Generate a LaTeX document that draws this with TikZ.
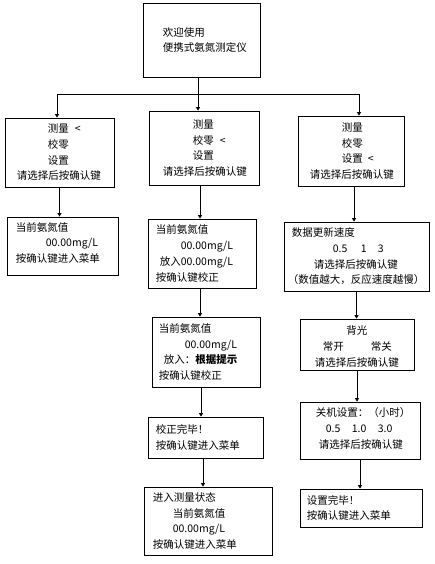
\documentclass[tikz,border=0pt]{standalone}
\usepackage{fontspec}
\newfontfamily\cjk{Noto Sans CJK SC}
\usetikzlibrary{arrows.meta,positioning}

\tikzset{
  box/.style={draw, line width=0.8pt, inner sep=0pt},
  txt/.style={align=left, inner sep=0pt, font=\cjk\fontsize{10.5}{15.7}\selectfont},
  line/.style={line width=0.8pt},
  arrow/.style={line, -{Triangle[length=3.5pt,width=4pt]}},
}

\begin{document}
\begin{tikzpicture}[x=1pt,y=-1pt]
	\useasboundingbox (0,0) rectangle (434,564);

	% title
	\node[box, minimum width=117pt, minimum height=74pt] (welcome) at (201.5,40) {};
	\node[txt, right=20pt of welcome.west] (welcome_t) {欢迎使用\\便携式氨氮测定仪};

	% left column: measure
	\node[box, minimum width=109pt, minimum height=69pt] (meas_1) at (59.5,152.5) {};
	\node[txt, right=12pt of meas_1.west] (meas_1t) {\hspace*{31pt}\makebox[27pt][l]{测量}<\\\hspace*{31pt}校零\\\hspace*{31pt}设置\\请选择后按确认键};
	\node[box, minimum width=111pt, minimum height=58pt] (meas_2) at (62.5,246) {};
	\node[txt, right=9pt of meas_2.west, yshift=3pt] (meas_2t) {当前氨氮值\\\hspace*{30pt}00.00mg/L\\按确认键进入菜单};

	% middle column: zero
	\node[box, minimum width=110pt, minimum height=74pt] (zero_1) at (204,148) {};
	\node[txt, right=14pt of zero_1.west] (zero_1t) {\hspace*{30pt}测量\\\hspace*{30pt}\makebox[27pt][l]{校零}<\\\hspace*{30pt}设置\\请选择后按确认键};
	\node[box, minimum width=108pt, minimum height=69pt] (zero_2) at (202,253.5) {};
	\node[txt, right=8pt of zero_2.west] (zero_2t) {当前氨氮值\\\hspace*{25pt}00.00mg/L\\\hspace*{4pt}放入00.00mg/L\\按确认键校正};
	\node[box, minimum width=108pt, minimum height=70pt] (zero_3) at (206,352) {};
	\node[txt, right=7pt of zero_3.west] (zero_3t) {当前氨氮值\\\hspace*{26pt}00.00mg/L\\\hspace*{5pt}放入：{\bfseries 根据提示}\\按确认键校正};
	\node[box, minimum width=115pt, minimum height=41pt] (zero_4) at (205.5,437.5) {};
	\node[txt, right=8pt of zero_4.west] (zero_4t) {校正完毕！\\按确认键进入菜单};
	\node[box, minimum width=128pt, minimum height=68pt] (zero_5) at (208,521) {};
	\node[txt, right=9pt of zero_5.west] (zero_5t) {进入测量状态\\\hspace*{20pt}当前氨氮值\\\hspace*{20pt}00.00mg/L\\按确认键进入菜单};

	% right column: settings
	\node[box, minimum width=106pt, minimum height=70pt] (set_1) at (351,151) {};
	\node[txt, right=12pt of set_1.west] (set_1t) {\hspace*{32pt}测量\\\hspace*{32pt}校零\\\hspace*{32pt}\makebox[26pt][l]{设置}<\\请选择后按确认键};
	\node[box, minimum width=145pt, minimum height=69pt] (set_2) at (356.5,256.5) {};
	\node[txt, right=4pt of set_2.west] (set_2t) {\hspace*{4pt}数据更新速度\\\hspace*{45pt}\makebox[28pt][l]{0.5}\makebox[17pt][l]{1}3\\\hspace*{26pt}请选择后按确认键\\（数值越大，反应速度越慢）};
	\node[box, minimum width=114pt, minimum height=51pt] (set_3) at (357,344.5) {};
	\node[txt, right=15pt of set_3.west, yshift=-2pt] (set_3t) {\hspace*{31.5pt}背光\\\hspace*{8pt}\makebox[48pt][l]{常开}常关\\请选择后按确认键};
	\node[box, minimum width=120pt, minimum height=57pt] (set_4) at (360,430.5) {};
	\node[txt, right=16pt of set_4.west, yshift=2pt] (set_4t) {关机设置：（小时）\\\hspace*{10pt}\makebox[26pt][l]{0.5}\makebox[26pt][l]{1.0}3.0\\\hspace*{3pt}请选择后按确认键};
	\node[box, minimum width=122pt, minimum height=38pt] (set_5) at (361,508) {};
	\node[txt, right=7pt of set_5.west] (set_5t) {设置完毕！\\按确认键进入菜单};

	% branching from the title
	\coordinate (split) at (198,94);
	\draw[line] (welcome.south -| split) -- (split);
	\draw[arrow] (split) -- (split |- zero_1.north);
	\draw[arrow] (split) -| ([xshift=-2.5pt]meas_1.north);
	\draw[arrow] (split) -| ([xshift=8pt]set_1.north);

	% down each column
	\foreach \a/\b/\s in {meas_1/meas_2/0, zero_1/zero_2/-4, zero_2/zero_3/-2, zero_3/zero_4/-5,
	                      zero_4/zero_5/-2.5, set_1/set_2/3, set_2/set_3/0, set_3/set_4/0, set_4/set_5/0}
		\draw[arrow] ([xshift=\s pt]\a.south) -- ([xshift=\s pt]\a.south |- \b.north);
\end{tikzpicture}
\end{document}
